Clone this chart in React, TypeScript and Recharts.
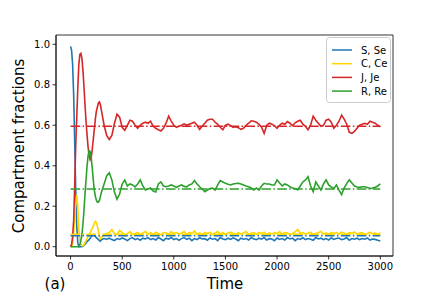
import React from 'react';
import { LineChart, Line, XAxis, YAxis, ReferenceLine, ReferenceArea, Legend } from 'recharts';

const times = [
  0, 10, 20, 30, 40, 50, 60, 70, 80, 90,
  100, 110, 120, 130, 140, 150, 160, 170, 180, 190,
  200, 210, 220, 230, 240, 250, 260, 270, 280, 290,
  300, 325, 350, 375, 400, 425, 450, 475, 500, 525,
  550, 575, 600, 625, 650, 675, 700, 725, 750, 775,
  800, 825, 850, 875, 900, 925, 950, 975, 1000, 1025,
  1050, 1075, 1100, 1125, 1150, 1175, 1200, 1225, 1250, 1275,
  1300, 1325, 1350, 1375, 1400, 1425, 1450, 1475, 1500, 1525,
  1550, 1575, 1600, 1625, 1650, 1675, 1700, 1725, 1750, 1775,
  1800, 1825, 1850, 1875, 1900, 1925, 1950, 1975, 2000, 2025,
  2050, 2075, 2100, 2125, 2150, 2175, 2200, 2225, 2250, 2275,
  2300, 2325, 2350, 2375, 2400, 2425, 2450, 2475, 2500, 2525,
  2550, 2575, 2600, 2625, 2650, 2675, 2700, 2725, 2750, 2775,
  2800, 2825, 2850, 2875, 2900, 2925, 2950, 2975, 3000,
];

const sValues = [
  0.99, 0.97, 0.9, 0.75, 0.52, 0.28, 0.1, 0.02, 0.0, 0.0,
  0.0, 0.0, 0.003, 0.007, 0.012, 0.018, 0.025, 0.03, 0.035, 0.042,
  0.05, 0.055, 0.06, 0.055, 0.05, 0.045, 0.04, 0.035, 0.03, 0.027,
  0.035, 0.04, 0.037, 0.042, 0.035, 0.03, 0.04, 0.036, 0.043, 0.038,
  0.03, 0.04, 0.045, 0.035, 0.04, 0.032, 0.042, 0.038, 0.045, 0.035,
  0.04, 0.033, 0.045, 0.038, 0.03, 0.042, 0.037, 0.045, 0.035, 0.04,
  0.032, 0.04, 0.045, 0.036, 0.042, 0.03, 0.04, 0.035, 0.044, 0.038,
  0.04, 0.032, 0.043, 0.037, 0.04, 0.03, 0.045, 0.038, 0.035, 0.042,
  0.036, 0.044, 0.038, 0.03, 0.042, 0.037, 0.04, 0.033, 0.045, 0.038,
  0.035, 0.042, 0.037, 0.045, 0.033, 0.04, 0.038, 0.03, 0.043, 0.036,
  0.04, 0.033, 0.045, 0.038, 0.042, 0.03, 0.04, 0.036, 0.044, 0.035,
  0.04, 0.037, 0.032, 0.045, 0.038, 0.042, 0.035, 0.04, 0.033, 0.044,
  0.036, 0.04, 0.043, 0.035, 0.038, 0.045, 0.032, 0.04, 0.037, 0.042,
  0.035, 0.04, 0.037, 0.043, 0.033, 0.038, 0.036, 0.032, 0.028,
];

const cValues = [
  0, 0, 0.02, 0.07, 0.14, 0.21, 0.255, 0.2, 0.09, 0.03,
  0.01, 0.005, 0.005, 0.01, 0.02, 0.03, 0.04, 0.05, 0.06, 0.07,
  0.08, 0.09, 0.1, 0.115, 0.125, 0.12, 0.1, 0.075, 0.05, 0.04,
  0.045, 0.06, 0.065, 0.07, 0.085, 0.065, 0.06, 0.08, 0.07, 0.055,
  0.065, 0.075, 0.06, 0.065, 0.07, 0.058, 0.068, 0.075, 0.062, 0.07,
  0.06, 0.072, 0.065, 0.058, 0.07, 0.068, 0.06, 0.075, 0.065, 0.07,
  0.062, 0.068, 0.075, 0.06, 0.07, 0.065, 0.078, 0.062, 0.068, 0.06,
  0.07, 0.065, 0.072, 0.06, 0.068, 0.075, 0.062, 0.07, 0.06, 0.068,
  0.072, 0.065, 0.06, 0.07, 0.063, 0.068, 0.075, 0.06, 0.067, 0.07,
  0.062, 0.07, 0.065, 0.072, 0.06, 0.068, 0.063, 0.07, 0.065, 0.075,
  0.062, 0.07, 0.068, 0.06, 0.065, 0.073, 0.085, 0.065, 0.07, 0.062,
  0.068, 0.072, 0.06, 0.065, 0.07, 0.075, 0.062, 0.068, 0.06, 0.07,
  0.065, 0.07, 0.063, 0.072, 0.068, 0.06, 0.07, 0.065, 0.073, 0.062,
  0.068, 0.07, 0.06, 0.065, 0.072, 0.063, 0.068, 0.06, 0.07,
];

const jValues = [
  0, 0.01, 0.05, 0.13, 0.3, 0.5, 0.64, 0.78, 0.9, 0.95,
  0.955, 0.93, 0.87, 0.79, 0.7, 0.62, 0.55, 0.49, 0.45, 0.43,
  0.44, 0.48, 0.53, 0.58, 0.63, 0.67, 0.69, 0.71, 0.715, 0.7,
  0.67, 0.6, 0.55, 0.53, 0.55, 0.61, 0.655, 0.64, 0.59, 0.575,
  0.6, 0.625, 0.62, 0.6, 0.585, 0.6, 0.61, 0.615, 0.61, 0.62,
  0.595, 0.585, 0.578, 0.572, 0.585, 0.61, 0.645, 0.62, 0.6, 0.59,
  0.595, 0.6, 0.607, 0.6, 0.605, 0.61, 0.615, 0.6, 0.58, 0.595,
  0.61, 0.625, 0.63, 0.63, 0.615, 0.605, 0.59, 0.578, 0.6, 0.605,
  0.598, 0.59, 0.593, 0.588, 0.58, 0.585, 0.6, 0.61, 0.622, 0.62,
  0.615, 0.605, 0.59, 0.56, 0.6, 0.61, 0.605, 0.598, 0.585, 0.6,
  0.61, 0.605, 0.618, 0.61, 0.598, 0.612, 0.62, 0.625, 0.605, 0.595,
  0.578, 0.6, 0.645, 0.625, 0.61, 0.595, 0.6, 0.625, 0.63, 0.615,
  0.585, 0.6, 0.62, 0.65, 0.63, 0.605, 0.565, 0.56, 0.57, 0.585,
  0.6, 0.605, 0.61, 0.605, 0.62, 0.615, 0.61, 0.6, 0.592,
];

const rValues = [
  0, 0, 0, 0, 0, 0, 0, 0, 0, 0.01,
  0.03, 0.06, 0.11, 0.18, 0.26, 0.33, 0.4, 0.45, 0.475, 0.47,
  0.44, 0.39, 0.33, 0.28, 0.25, 0.23, 0.22, 0.22, 0.23, 0.25,
  0.27, 0.31, 0.35, 0.365, 0.33, 0.27, 0.235, 0.26, 0.31, 0.33,
  0.3, 0.31, 0.305, 0.295, 0.31, 0.33, 0.3, 0.28, 0.285, 0.29,
  0.275, 0.27, 0.31, 0.32, 0.3, 0.296, 0.3, 0.305, 0.3, 0.293,
  0.3, 0.305, 0.298, 0.296, 0.305, 0.31, 0.327, 0.31, 0.296, 0.285,
  0.272, 0.28, 0.288, 0.29, 0.28, 0.305, 0.327, 0.32, 0.313, 0.308,
  0.305, 0.31, 0.312, 0.313, 0.31, 0.305, 0.3, 0.296, 0.29, 0.28,
  0.29, 0.28, 0.3, 0.313, 0.31, 0.31, 0.305, 0.305, 0.33, 0.315,
  0.3, 0.31, 0.305, 0.296, 0.29, 0.288, 0.28, 0.3, 0.32, 0.33,
  0.346, 0.3, 0.272, 0.32, 0.3, 0.28, 0.31, 0.33, 0.305, 0.295,
  0.288, 0.305, 0.28, 0.257, 0.29, 0.313, 0.33, 0.315, 0.3, 0.295,
  0.293, 0.296, 0.296, 0.292, 0.288, 0.29, 0.293, 0.3, 0.31,
];

const seriesKeys = ['S', 'C', 'J', 'R'];
const seriesNames = ['S, Se', 'C, Ce', 'J, Je', 'R, Re'];
const seriesColors = ['#1f77b4', '#ffd700', '#d62728', '#2ca02c'];
const equilibrium = [0.054, 0.062, 0.595, 0.285];

const xTicks = [0, 500, 1000, 1500, 2000, 2500, 3000];
const yTicks = [0, 0.2, 0.4, 0.6, 0.8, 1.0];

const seriesValues = [sValues, cValues, jValues, rValues];
const data = times.map((t, i) => {
  const row: Record<string, number> = { t };
  seriesKeys.forEach((k, s) => {
    row[k] = seriesValues[s][i];
  });
  return row;
});

const FONT = '"DejaVu Sans", sans-serif';
const X_DOMAIN: [number, number] = [-141, 3123];
const Y_DOMAIN: [number, number] = [-0.046, 1.046];

const renderLegend = () => (
  <svg width={65} height={66} style={{ display: 'block', overflow: 'visible' }}>
    <rect x={0.5} y={0.5} width={64} height={65} rx={3} ry={3} fill="rgba(255,255,255,0.8)" stroke="#cccccc" strokeWidth={1} />
    {seriesNames.map((name, i) => {
      const cy = 13 + i * 13.7;
      return (
        <g key={name}>
          <line x1={6} x2={26} y1={cy} y2={cy} stroke={seriesColors[i]} strokeWidth={1.5} />
          <text x={35} y={cy} dy="0.36em" fontFamily={FONT} fontSize={10} fill="#000">
            {name}
          </text>
        </g>
      );
    })}
  </svg>
);

export default function App() {
  return (
    <div style={{ position: 'absolute', left: 0, top: 0, width: 440, height: 294, background: '#fff' }}>
      <LineChart width={440} height={294} data={data} margin={{ top: 35, right: 47, bottom: 0, left: 0 }}>
        <XAxis
          dataKey="t"
          type="number"
          domain={X_DOMAIN}
          ticks={xTicks}
          allowDataOverflow
          height={38}
          tickSize={3.5}
          tickMargin={3.5}
          stroke="#000"
          tick={{ fill: '#000', fontSize: 10, fontFamily: FONT }}
          tickLine={{ stroke: '#000', strokeWidth: 0.8 }}
          axisLine={{ stroke: '#000', strokeWidth: 0.8 }}
        />
        <YAxis
          type="number"
          domain={Y_DOMAIN}
          ticks={yTicks}
          allowDataOverflow
          width={56}
          tickSize={3.5}
          tickMargin={2.5}
          tickFormatter={(v: number) => v.toFixed(1)}
          stroke="#000"
          tick={{ fill: '#000', fontSize: 10, fontFamily: FONT }}
          tickLine={{ stroke: '#000', strokeWidth: 0.8 }}
          axisLine={{ stroke: '#000', strokeWidth: 0.8 }}
        />
        {seriesKeys.map((k, i) => (
          <Line
            key={k}
            dataKey={k}
            name={seriesNames[i]}
            stroke={seriesColors[i]}
            strokeWidth={1.6}
            dot={false}
            isAnimationActive={false}
            type="linear"
          />
        ))}
        {equilibrium.map((v, i) => (
          <ReferenceLine
            key={'eq' + i}
            segment={[{ x: 0, y: v }, { x: 3000, y: v }]}
            stroke={seriesColors[i]}
            strokeWidth={1.5}
            strokeDasharray="9.6 2.4 1.5 2.4"
          />
        ))}
        <ReferenceArea
          x1={X_DOMAIN[0]}
          x2={X_DOMAIN[1]}
          y1={Y_DOMAIN[0]}
          y2={Y_DOMAIN[1]}
          fill="none"
          fillOpacity={0}
          stroke="#000"
          strokeWidth={0.8}
          ifOverflow="visible"
        />
        <Legend
          layout="vertical"
          align="center"
          verticalAlign="middle"
          content={renderLegend}
          wrapperStyle={{ position: 'absolute', left: 326, top: 37, width: 65, height: 66 }}
        />
      </LineChart>
      <div
        style={{
          position: 'absolute',
          left: 19,
          top: 146,
          transform: 'translate(-50%, -50%) rotate(-90deg)',
          whiteSpace: 'nowrap',
          fontFamily: FONT,
          fontSize: 15,
          color: '#000',
        }}
      >
        Compartment fractions
      </div>
      <div
        style={{
          position: 'absolute',
          left: 225,
          top: 284,
          transform: 'translate(-50%, -50%)',
          whiteSpace: 'nowrap',
          fontFamily: FONT,
          fontSize: 15,
          color: '#000',
        }}
      >
        Time
      </div>
      <div
        style={{
          position: 'absolute',
          left: 55,
          top: 284,
          transform: 'translate(-50%, -50%)',
          whiteSpace: 'nowrap',
          fontFamily: FONT,
          fontSize: 15,
          color: '#000',
        }}
      >
        (a)
      </div>
    </div>
  );
}
